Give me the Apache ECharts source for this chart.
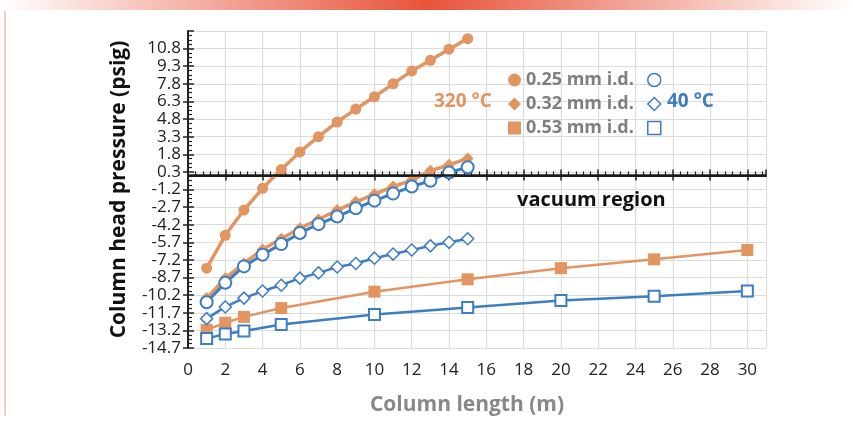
<!DOCTYPE html>
<html>
<head>
<meta charset="utf-8">
<script src="https://cdn.jsdelivr.net/npm/echarts@6/dist/echarts.min.js"></script>
<style>
  html, body { margin: 0; padding: 0; background: #fff; }
  #chart { width: 853px; height: 421px; }
</style>
</head>
<body>
<div id="chart"></div>
<script>
// column lengths (m)
var lenShort = [1, 2, 3, 4, 5, 6, 7, 8, 9, 10, 11, 12, 13, 14, 15];
var lenWide = [1, 2, 3, 5, 10, 15, 20, 25, 30];

// head pressure (psig), 320 °C
var hot025 = [-7.9, -5.1, -2.95, -1.1, 0.5, 2.0, 3.3, 4.55, 5.65, 6.7, 7.8, 8.9, 9.8, 10.75, 11.65];
var hot032 = [-10.45, -8.75, -7.5, -6.3, -5.4, -4.5, -3.75, -2.95, -2.25, -1.6, -0.95, -0.4, 0.4, 0.9, 1.45];
var hot053 = [-13.15, -12.55, -12.05, -11.3, -9.9, -8.85, -7.9, -7.15, -6.35];

// head pressure (psig), 40 °C
var cold025 = [-10.8, -9.15, -7.75, -6.75, -5.85, -4.9, -4.15, -3.5, -2.8, -2.15, -1.55, -0.95, -0.45, 0.25, 0.7];
var cold032 = [-12.2, -11.2, -10.45, -9.85, -9.35, -8.75, -8.3, -7.8, -7.5, -7.05, -6.7, -6.35, -6.0, -5.7, -5.4];
var cold053 = [-13.9, -13.5, -13.25, -12.7, -11.85, -11.25, -10.65, -10.3, -9.85];

var seriesNames = ['0.25 mm i.d.', '0.32 mm i.d.', '0.53 mm i.d.'];
var coldNames = ['0.25 mm i.d. 40', '0.32 mm i.d. 40', '0.53 mm i.d. 40'];

var orange = '#E29461';
var blue = '#3D7EC3';

function pairs(xs, ys) {
    var res = [];
    for (var i = 0; i < ys.length; i++) {
        res.push([xs[i], ys[i]]);
    }
    return res;
}

var chart = echarts.init(document.getElementById('chart'));

var labelFont = { color: '#222', fontSize: 17, fontFamily: 'Open Sans' };
var hollow = { color: '#fff', borderColor: blue, borderWidth: 1.5 };

var option = {
    animation: false,
    textStyle: { fontFamily: 'Open Sans' },
    grid: { left: 188, right: 87, top: 31, bottom: 73 },
    graphic: [
        {
            type: 'rect',
            shape: { x: 0, y: 0, width: 853, height: 10 },
            style: {
                fill: new echarts.graphic.LinearGradient(0, 0, 1, 0, [
                    { offset: 0, color: 'rgba(255,255,255,1)' },
                    { offset: 0.5, color: '#E8533A' },
                    { offset: 1, color: 'rgba(255,255,255,1)' }
                ])
            }
        },
        {
            type: 'line',
            shape: { x1: 5, y1: 11, x2: 5, y2: 416 },
            style: { stroke: '#EC9A8A', lineWidth: 1 }
        },
        {
            type: 'text', left: 434, top: 92, z: 10,
            style: { text: '320 °C', fill: orange, font: 'bold 19px "Open Sans"' }
        },
        {
            type: 'text', left: 667, top: 92, z: 10,
            style: { text: '40 °C', fill: blue, font: 'bold 19px "Open Sans"' }
        },
        {
            type: 'text', left: 517, top: 190, z: 10,
            style: { text: 'vacuum region', fill: '#111', font: 'bold 20px "Open Sans"' }
        }
    ],
    legend: [{
        orient: 'vertical',
        left: 503, top: 66,
        itemWidth: 13, itemHeight: 13, itemGap: 6,
        textStyle: { color: '#7f7f7f', fontSize: 18, fontWeight: 'bold', fontFamily: 'Open Sans' },
        data: [
            { name: seriesNames[0], icon: 'circle' },
            { name: seriesNames[1], icon: 'diamond' },
            { name: seriesNames[2], icon: 'rect' }
        ]
    }, {
        orient: 'vertical',
        left: 642, top: 66,
        itemWidth: 13, itemHeight: 13, itemGap: 6,
        formatter: function() { return ' '; },
        textStyle: { fontSize: 18, fontWeight: 'bold' },
        data: [
            { name: coldNames[0], icon: 'circle', itemStyle: hollow },
            { name: coldNames[1], icon: 'diamond', itemStyle: hollow },
            { name: coldNames[2], icon: 'rect', itemStyle: hollow }
        ]
    }],
    xAxis: [{
        type: 'value',
        min: 0, max: 31, interval: 2,
        name: 'Column length (m)',
        nameLocation: 'middle',
        nameGap: 47,
        nameTextStyle: { color: '#888', fontSize: 21, fontWeight: 'bold', fontFamily: 'Open Sans', padding: [0, 20, 0, 0] },
        axisLine: { lineStyle: { color: '#222', width: 2 } },
        axisTick: { show: true, inside: false, length: 5, lineStyle: { color: '#222', width: 1.5 } },
        axisLabel: Object.assign({
            margin: 14,
            showMaxLabel: false,
            formatter: function(v) { return v % 2 === 0 ? v : ''; }
        }, labelFont),
        splitLine: { show: true, lineStyle: { color: '#dcdcdc', width: 1.2 } }
    }, {
        type: 'value',
        position: 'bottom',
        min: 0, max: 31, interval: 2,
        axisLine: { show: false },
        axisTick: { show: true, inside: true, length: 6, lineStyle: { color: '#222', width: 1.5 } },
        minorTick: { show: true, splitNumber: 5, length: 4, lineStyle: { color: '#222', width: 1.2 } },
        axisLabel: { show: false },
        splitLine: { show: false }
    }],
    yAxis: [{
        type: 'value',
        min: -14.7, max: 12.3, interval: 1.5,
        name: 'Column head pressure (psig)',
        nameLocation: 'middle',
        nameGap: 58,
        nameTextStyle: { color: '#111', fontSize: 21, fontWeight: 'bold', fontFamily: 'Open Sans' },
        axisLine: { show: true, lineStyle: { color: '#222', width: 2 } },
        axisTick: { show: true, inside: false, length: 5, lineStyle: { color: '#222', width: 1.5 } },
        axisLabel: Object.assign({ margin: 7, showMaxLabel: false }, labelFont),
        splitLine: { show: true, lineStyle: { color: '#dcdcdc', width: 1.2 } }
    }, {
        type: 'value',
        position: 'left',
        min: -14.7, max: 12.3, interval: 1.5,
        axisLine: { show: false },
        axisTick: { show: true, inside: true, length: 6, lineStyle: { color: '#222', width: 1.5 } },
        minorTick: { show: true, splitNumber: 4, length: 4, lineStyle: { color: '#222', width: 1.2 } },
        axisLabel: { show: false },
        splitLine: { show: false }
    }],
    series: [{
        name: seriesNames[2],
        type: 'line',
        data: pairs(lenWide, hot053),
        symbol: 'rect', symbolSize: 12,
        itemStyle: { color: orange },
        lineStyle: { color: orange, width: 2.5 },
        markLine: {
            silent: true,
            symbol: 'none',
            label: { show: false },
            lineStyle: { color: '#1a1a1a', width: 2.5, type: 'solid' },
            data: [{ yAxis: 0 }]
        },
        z: 2
    }, {
        name: coldNames[2],
        type: 'line',
        data: pairs(lenWide, cold053),
        symbol: 'rect', symbolSize: 11,
        itemStyle: { color: '#fff', borderColor: blue, borderWidth: 2 },
        lineStyle: { color: blue, width: 2.5 },
        z: 3
    }, {
        name: seriesNames[0],
        type: 'line',
        data: pairs(lenShort, hot025),
        symbol: 'circle', symbolSize: 11,
        itemStyle: { color: orange },
        lineStyle: { color: orange, width: 3.5 },
        z: 2
    }, {
        name: seriesNames[1],
        type: 'line',
        data: pairs(lenShort, hot032),
        symbol: 'diamond', symbolSize: 12,
        itemStyle: { color: orange },
        lineStyle: { color: orange, width: 3.5 },
        z: 2
    }, {
        name: coldNames[0],
        type: 'line',
        data: pairs(lenShort, cold025),
        symbol: 'circle', symbolSize: 12,
        itemStyle: { color: '#fff', borderColor: blue, borderWidth: 2 },
        lineStyle: { color: blue, width: 3 },
        z: 3
    }, {
        name: coldNames[1],
        type: 'line',
        data: pairs(lenShort, cold032),
        symbol: 'diamond', symbolSize: 12,
        itemStyle: { color: '#fff', borderColor: blue, borderWidth: 1.5 },
        lineStyle: { color: blue, width: 2.5 },
        z: 3
    }]
};

chart.setOption(option);
</script>
</body>
</html>
